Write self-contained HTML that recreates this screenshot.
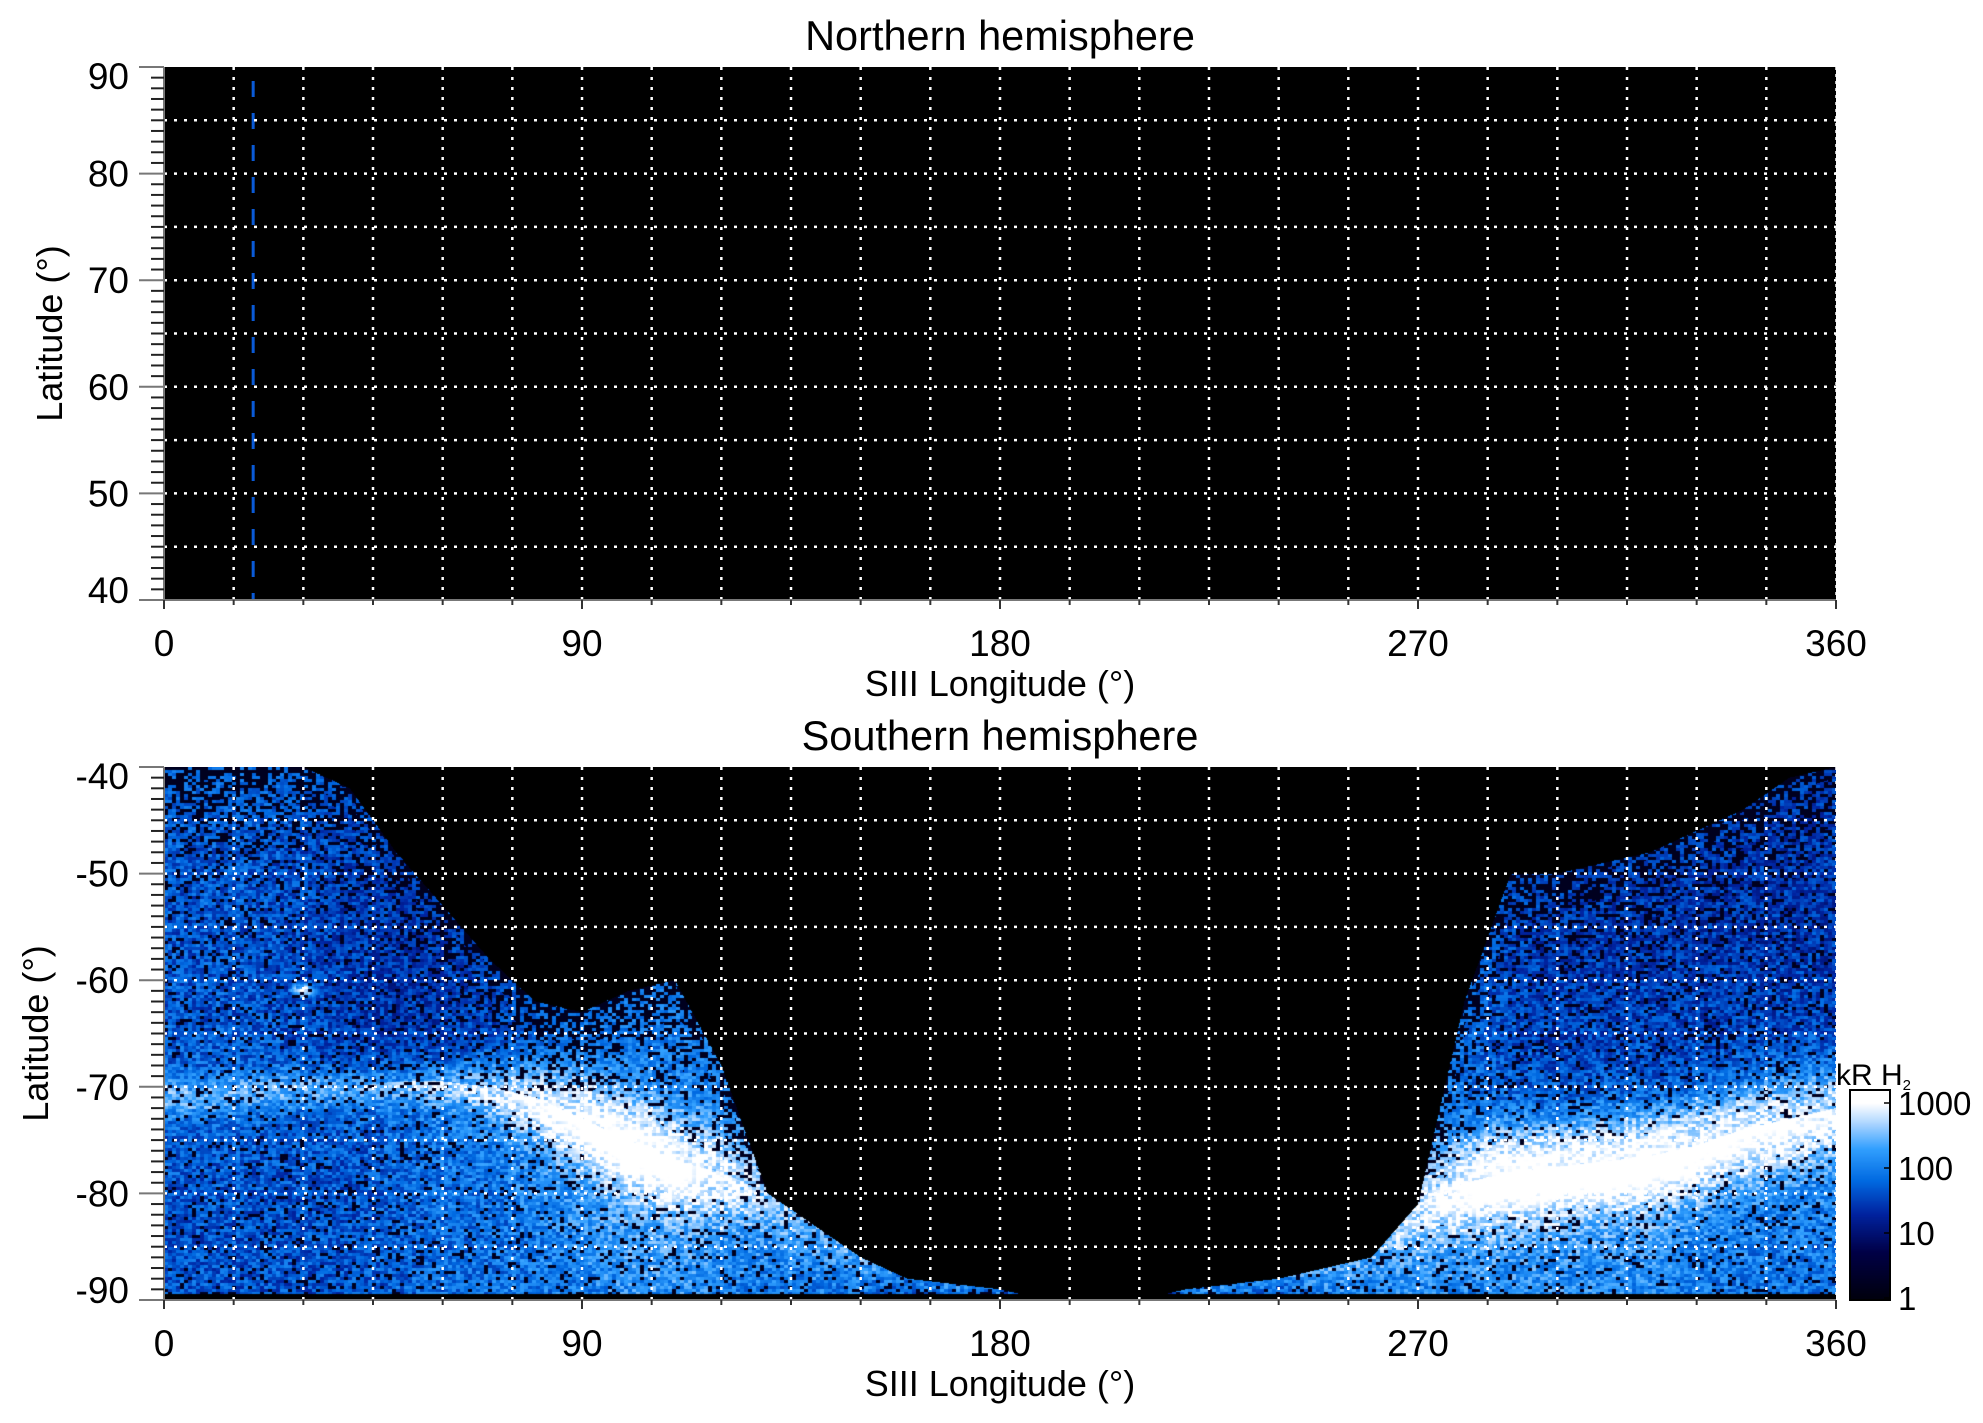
<!DOCTYPE html>
<html><head><meta charset="utf-8"><style>
body{margin:0;background:#fff;width:1983px;height:1423px;overflow:hidden;position:relative;font-family:"Liberation Sans",sans-serif}
svg{position:absolute;left:0;top:0}
canvas{position:absolute}
</style></head><body>
<canvas id="south" width="1672" height="533" style="left:164px;top:767px"></canvas>
<canvas id="cbar" width="40" height="210" style="left:1850px;top:1090px"></canvas>
<svg id="svg" width="1983" height="1423"></svg>
<script>
// ---- data (per 10° longitude, 0..360) ----
const lons      = [0,10,20,30,40,50,60,70,80,90,100,110,120,130,140,150,160,170,180,190,200,210,220,230,240,250,260,270,280,290,300,310,320,330,340,350,360];
const topLat    = [-40,-40,-40,-40,-42,-48,-53,-58,-62,-63,-61,-60,-68,-80,-83,-86,-88,-88.5,-89,-90,-90,-90,-89,-88.5,-88,-87,-86,-81,-62,-50,-50,-49,-48,-46,-44,-41,-40];
const ovalLat   = [-71,-71,-70.5,-70,-70,-69.5,-69.5,-70,-71,-73,-75,-77,-78,-80,-82,-85,-87,-88,-89,-89,-89,-89,-89,-88,-87,-86,-84,-81,-79,-78,-77.5,-77,-76.5,-75.5,-74,-73,-72];
const ovalPeak  = [0.6,0.6,0.6,0.6,0.6,0.6,0.7,0.9,1.1,1.3,1.4,1.2,0.9,0.6,0.5,0.4,0.3,0.3,0.3,0,0,0,0.3,0.3,0.3,0.4,0.5,0.8,1.2,1.5,1.5,1.5,1.5,1.4,1.3,1.2,1.1];
const ovalSigma = [1.3,1.3,1.3,1.3,1.3,1.3,1.5,1.8,2.3,2.8,3,3,3,3,3,2,1,1,1,1,1,1,1,1,1,2,3,3,3,3,3,3,3,3,3,3,3];
const bgUp      = [1.6,1.6,1.6,1.5,1.4,1.3,1.3,1.3,1.4,1.5,1.6,1.7,1.7,1.7,1.7,1.7,1.6,1.6,1.5,0,0,0,1.5,1.6,1.6,1.7,1.7,1.7,1.6,1.4,1.3,1.3,1.3,1.3,1.3,1.3,1.3];
const bgDown    = [1.6,1.6,1.6,1.6,1.6,1.7,1.8,1.8,1.9,1.9,2.0,2.0,1.9,1.8,1.8,1.8,1.7,1.7,1.6,0,0,0,1.6,1.7,1.7,1.8,1.8,1.9,1.9,1.9,1.9,1.9,1.9,1.8,1.8,1.8,1.8];
const spotLon   = [30];
const spotLat   = [-61];
const spotVal   = [2.8];
const xTicks = [0,90,180,270,360];
const nTicks = [40,50,60,70,80,90];
const sTicks = [-40,-50,-60,-70,-80,-90];
const cbTicks = [1,10,100,1000];
const dashLon = 19.2;

const NS="http://www.w3.org/2000/svg";
const svg=document.getElementById('svg');
function el(tag,attrs,parent){const e=document.createElementNS(NS,tag);for(const k in attrs)e.setAttribute(k,attrs[k]);(parent||svg).appendChild(e);return e;}
const X0=164,X1=1836,W=X1-X0;
function xs(lon){return X0+lon/360*W;}
function interp(arr,lon){const i=Math.min(35,Math.floor(lon/10));const f=(lon-i*10)/10;return arr[i]*(1-f)+arr[i+1]*f;}

const stops=[[0,[0,0,15]],[0.7,[0,0,70]],[1.3,[0,35,160]],[1.8,[0,105,225]],[2.3,[50,160,255]],[2.7,[175,215,255]],[3.0,[255,255,255]]];
function cmap(v){if(v<=0)return[0,0,15];if(v>=3)return[255,255,255];for(let i=1;i<stops.length;i++){if(v<=stops[i][0]){const a=stops[i-1],b=stops[i];const f=(v-a[0])/(b[0]-a[0]);return[0,1,2].map(k=>a[1][k]+(b[1][k]-a[1][k])*f);}}return[255,255,255];}
function hash(x,y){let h=(x*374761393+y*668265263)|0;h=(h^(h>>>13))*1274126177|0;return((h^(h>>>16))>>>0)/4294967295;}

(function(){
 const c=document.getElementById('south'),ctx=c.getContext('2d');
 const H=533,img=ctx.createImageData(W,H);
 for(let px=0;px<W;px++){
  const lon=(px+0.5)/W*360;
  const tl=interp(topLat,lon),ol=interp(ovalLat,lon),op=interp(ovalPeak,lon),os=interp(ovalSigma,lon),bu=interp(bgUp,lon),bd=interp(bgDown,lon);
  for(let py=0;py<H;py++){
   const lat=-40-(py+0.5)/H*50;
   let r=0,g=0,b=0;
   if(lat<=tl && lat>-89.4 && bu>0.1){
    const d=lat-ol;
    let v=(lat>ol?bu:bd)+op*Math.exp(-d*d/(2*os*os))+0.25*op*Math.exp(-d*d/(2*(os*3)*(os*3)));
    for(let s=0;s<spotLon.length;s++){const dx=(lon-spotLon[s])/3,dy=(lat-spotLat[s])/0.8;v=Math.max(v,spotVal[s]*Math.exp(-(dx*dx+dy*dy)/2));}
    const n=hash(Math.floor(px/4),Math.floor(py/3));
    v+=(n-0.5)*0.9;
    const edge=(lat>ol)?0.55*Math.exp(-(tl-lat)/5):0;
    if(n<0.12+edge && v<2.4) v=0.2;
    [r,g,b]=cmap(v);
   }
   const i=(py*W+px)*4;img.data[i]=r;img.data[i+1]=g;img.data[i+2]=b;img.data[i+3]=255;
  }
 }
 ctx.putImageData(img,0,0);
})();
(function(){
 const c=document.getElementById('cbar'),ctx=c.getContext('2d');
 for(let y=0;y<210;y++){const v=(1298-1090-y)/65;const [r,g,b]=cmap(v);ctx.fillStyle=`rgb(${r|0},${g|0},${b|0})`;ctx.fillRect(0,y,40,1);}
})();

function panel(name,y0,latTop,ticks,title,titleY,xlabY,tickY){
 const H=533;
 if(name==='north'){const r=el('rect',{x:X0,y:y0,width:W,height:H,fill:'#000'});
  const dl=el('line',{x1:xs(dashLon),x2:xs(dashLon),y1:y0+14,y2:y0+H,stroke:'#0a5ad6','stroke-width':3,'stroke-dasharray':'16 16'});}
 const g=el('g',{});
 for(let lon=15;lon<360;lon+=15)el('line',{x1:xs(lon),x2:xs(lon),y1:y0,y2:y0+H,stroke:'#fff','stroke-width':2.5,'stroke-dasharray':'3 7'},g);
 for(let k=5;k<50;k+=5)el('line',{x1:X0,x2:X1,y1:y0+k/50*H,y2:y0+k/50*H,stroke:'#fff','stroke-width':2.5,'stroke-dasharray':'3 7'},g);
 el('line',{x1:X1,x2:X1,y1:y0,y2:y0+H,stroke:'#fff','stroke-width':1.5,'stroke-dasharray':'3 4'},g);
 const ax=el('g',{});
 el('line',{x1:X0,x2:X0,y1:y0,y2:y0+H,stroke:'#777','stroke-width':2},ax);
 el('line',{x1:X0,x2:X1,y1:y0+H,y2:y0+H,stroke:'#777','stroke-width':2},ax);
 for(let k=0;k<=50;k++){const y=y0+k/50*H;const maj=k%10===0;el('line',{x1:maj?139:151,x2:X0,y1:y,y2:y,stroke:maj?'#777':'#222','stroke-width':2},ax);}
 for(let lon=0;lon<=360;lon+=15){el('line',{x1:xs(lon),x2:xs(lon),y1:y0+H,y2:y0+H+(lon%90===0?9:5),stroke:'#333','stroke-width':2},ax);}
 ticks.forEach(t=>{const f=(latTop-t)/50;let y=y0+f*H;if(f===0)y+=9;if(f===1)y-=10;const e=el('text',{x:129,y:y+13,'text-anchor':'end','font-size':37});e.textContent=t;});
 xTicks.forEach(t=>{const e=el('text',{x:xs(t),y:tickY,'text-anchor':'middle','font-size':37});e.textContent=t;});
 const tt=el('text',{x:1000,y:titleY,'text-anchor':'middle','font-size':41.5});tt.textContent=title;
 const xl=el('text',{x:1000,y:xlabY,'text-anchor':'middle','font-size':36});xl.textContent='SIII Longitude (°)';
 const yx=name==='north'?62:48,yc=y0+H/2;
 const yl=el('text',{x:yx,y:yc,'text-anchor':'middle','font-size':36,transform:`rotate(-90 ${yx} ${yc})`});yl.textContent='Latitude (°)';
}
panel('north',67,90,nTicks,'Northern hemisphere',50,696,656);
panel('south',767,-40,sTicks,'Southern hemisphere',750,1396,1356);

el('rect',{x:1850,y:1090,width:40,height:210,fill:'none',stroke:'#000','stroke-width':2});
cbTicks.forEach(v=>{const y=1298-Math.log10(v)*65;el('line',{x1:1884,x2:1890,y1:y,y2:y,stroke:'#000','stroke-width':1.5});const t=el('text',{x:1898,y:y+12,'font-size':33});t.textContent=v;});
const cbt=el('text',{x:1836,y:1085,'font-size':30});cbt.innerHTML='kR H<tspan font-size="15" dy="5">2</tspan>';


</script>
</body></html>
